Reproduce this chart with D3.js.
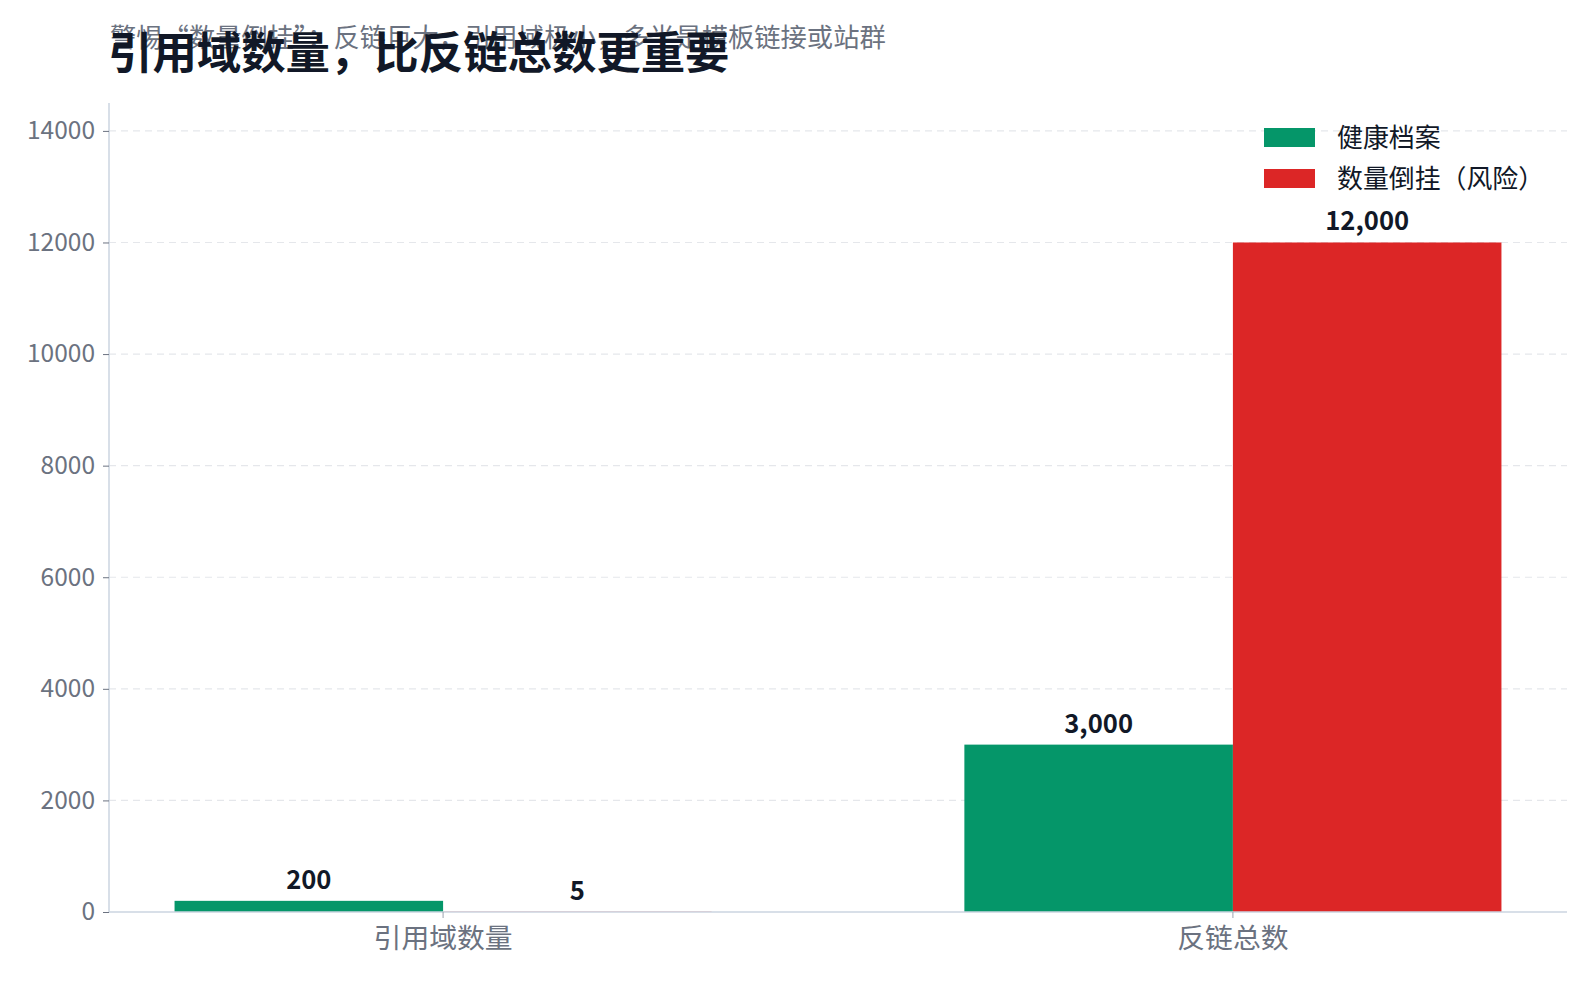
<!DOCTYPE html>
<html>
<head>
<meta charset="utf-8">
<script src="https://cdn.jsdelivr.net/npm/d3@7"></script>
<style>
  body { margin: 0; background: #fff; }
  svg { display: block; font-family: "Noto Sans CJK SC", "Noto Sans", sans-serif; }
</style>
</head>
<body>
<svg id="chart" width="1596" height="984"></svg>
<script>
const categories = ['引用域数量', '反链总数'];
const seriesNames = ['健康档案', '数量倒挂（风险）'];
const healthy = [200, 3000];
const inverted = [5, 12000];
const yTicks = [0, 2000, 4000, 6000, 8000, 10000, 12000, 14000];
const colors = ['#059669', '#dc2626'];

const margin = { top: 103, right: 29, bottom: 72, left: 109 };
const width = 1596 - margin.left - margin.right;
const height = 984 - margin.top - margin.bottom;

const svg = d3.select('#chart');

// title + subtitle (subtitle sits under the title, like the original)
svg.append('text')
  .attr('x', 110)
  .attr('y', 47)
  .attr('fill', '#6b7280')
  .style('font-size', '26.3px')
  .text('警惕“数量倒挂”：反链巨大，引用域极小，多半是模板链接或站群');
svg.append('text')
  .attr('x', 108)
  .attr('y', 69)
  .attr('fill', '#111827')
  .style('font-size', '44.4px')
  .style('font-weight', 'bold')
  .text('引用域数量，比反链总数更重要');

const chart = svg.append('g')
  .attr('transform', `translate(${margin.left}, ${margin.top})`);

const x0 = d3.scaleBand()
  .domain(categories)
  .range([0, width])
  .paddingInner(0.32)
  .paddingOuter(0.083);
const x1 = d3.scaleBand()
  .domain(seriesNames)
  .range([0, x0.bandwidth()]);
const y = d3.scaleLinear()
  .domain([0, 14500])
  .range([height, 0]);

// grid
chart.append('g')
  .selectAll('line')
  .data(yTicks.filter(t => t > 0))
  .enter()
  .append('line')
  .attr('x1', 0)
  .attr('x2', width)
  .attr('y1', d => y(d))
  .attr('y2', d => y(d))
  .attr('stroke', '#e5e7eb')
  .attr('stroke-width', 1.2)
  .attr('stroke-dasharray', '7,5');

const rows = categories.map((c, i) => ({
  category: c,
  values: [
    { series: seriesNames[0], value: healthy[i], color: colors[0] },
    { series: seriesNames[1], value: inverted[i], color: colors[1] },
  ],
}));

const groups = chart.selectAll('.group')
  .data(rows)
  .enter()
  .append('g')
  .attr('class', 'group')
  .attr('transform', d => `translate(${x0(d.category)}, 0)`);

groups.selectAll('rect')
  .data(d => d.values)
  .enter()
  .append('rect')
  .attr('x', d => x1(d.series))
  .attr('y', d => y(d.value))
  .attr('width', x1.bandwidth())
  .attr('height', d => height - y(d.value))
  .attr('fill', d => d.color);

groups.selectAll('text')
  .data(d => d.values)
  .enter()
  .append('text')
  .attr('text-anchor', 'middle')
  .attr('x', d => x1(d.series) + x1.bandwidth() / 2)
  .attr('y', d => y(d.value) - 12)
  .attr('fill', '#111827')
  .style('font-size', '25.6px')
  .style('font-weight', 'bold')
  .text(d => d3.format(',')(d.value));

// axes
const yAxis = chart.append('g')
  .call(d3.axisLeft(y).tickValues(yTicks).tickFormat(d3.format('d')).tickSize(6).tickPadding(8));
yAxis.select('.domain').attr('stroke', '#cbd5e1').attr('stroke-width', 1.5).attr('d', `M0,${height}V0`);
yAxis.selectAll('.tick line').attr('stroke', '#6b7280');
yAxis.selectAll('.tick text')
  .attr('fill', '#6b7280')
  .style('font-size', '24.5px')
  .style('font-family', '"Noto Sans CJK SC", sans-serif');

const xAxis = chart.append('g')
  .attr('transform', `translate(0, ${height})`)
  .call(d3.axisBottom(x0).tickSize(6).tickPadding(10));
xAxis.select('.domain').attr('stroke', '#cbd5e1').attr('stroke-width', 1.5).attr('d', `M0,0H${width}`);
xAxis.selectAll('.tick line').attr('stroke', '#9ca3af');
xAxis.selectAll('.tick text')
  .attr('fill', '#6b7280')
  .style('font-size', '27.8px')
  .style('font-family', '"Noto Sans CJK SC", sans-serif');

// legend
const legend = svg.append('g')
  .attr('transform', 'translate(1264, 128)');
const items = legend.selectAll('g')
  .data(seriesNames)
  .enter()
  .append('g')
  .attr('transform', (d, i) => `translate(0, ${i * 41})`);
items.append('rect')
  .attr('width', 51)
  .attr('height', 19)
  .attr('fill', (d, i) => colors[i]);
items.append('text')
  .attr('x', 73)
  .attr('y', 10)
  .attr('dy', '0.35em')
  .attr('fill', '#111827')
  .style('font-size', '25.9px')
  .text(d => d);
</script>
</body>
</html>
